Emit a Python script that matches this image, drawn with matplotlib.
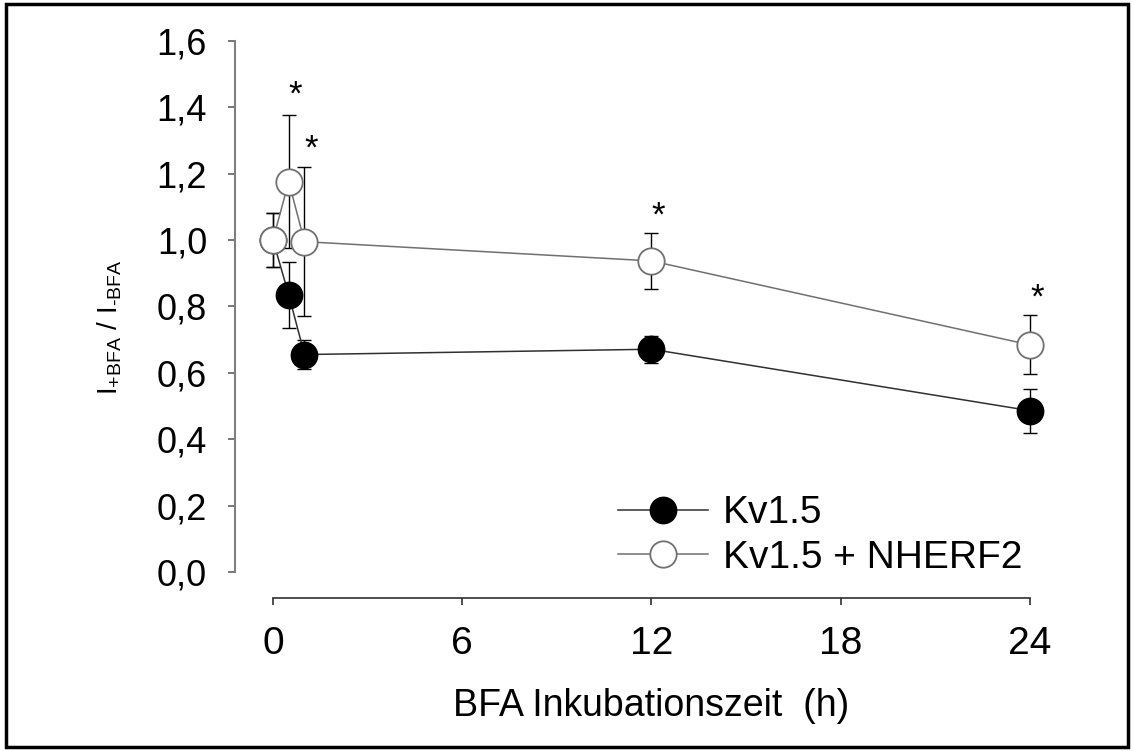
import numpy as np
import matplotlib
matplotlib.use("Agg")
from matplotlib import pyplot as plt
from matplotlib.patches import Rectangle
from matplotlib.ticker import FuncFormatter

plt.rcParams['font.family'] = ['Liberation Sans', 'DejaVu Sans']
plt.rcParams['mathtext.fontset'] = 'custom'
plt.rcParams['mathtext.rm'] = 'Liberation Sans'

# BFA incubation time (h) and normalised current I(+BFA)/I(-BFA)
t = np.array([0, 0.5, 1, 12, 24])
kv = np.array([1.0, 0.835, 0.655, 0.671, 0.486])
kv_err = np.array([0.08, 0.10, 0.043, 0.041, 0.066])
kv_nherf = np.array([1.0, 1.176, 0.995, 0.937, 0.684])
kv_nherf_err = np.array([0.08, 0.20, 0.225, 0.085, 0.089])

# significance marks
star_t = np.array([0.5, 1, 12, 24])
star_y = np.array([1.467, 1.304, 1.102, 0.855])

fig = plt.figure(figsize=(11.34, 7.51), dpi=100)
ax = fig.add_axes([0.2407, 0.2383, 0.6676, 0.7074])

ax.errorbar(t, kv, yerr=kv_err, fmt='none', ecolor='black', elinewidth=1,
            capsize=5, capthick=1, zorder=2, clip_on=False)
ax.errorbar(t, kv_nherf, yerr=kv_nherf_err, fmt='none', ecolor='black',
            elinewidth=1, capsize=5, capthick=1, zorder=2, clip_on=False)

l1, = ax.plot(t, kv, '-o', color='#303030', lw=1.1, ms=19, mfc='black',
              mec='black', mew=1, zorder=3, clip_on=False, label='Kv1.5')
l2, = ax.plot(t, kv_nherf, '-o', color='#707070', lw=1.1, ms=19, mfc='white',
              mec='#707070', mew=1.3, zorder=4, clip_on=False,
              label='Kv1.5 + NHERF2')

for xs, ys in zip(star_t, star_y):
    ax.annotate('*', (xs, ys), xytext=(5, -7), textcoords='offset points',
                fontsize=25, ha='center', va='center')

ax.set_xlim(0, 24)
ax.set_ylim(0, 1.6)
ax.set_xticks([0, 6, 12, 18, 24])
ax.set_yticks(np.arange(0, 1.61, 0.2))
ax.yaxis.set_major_formatter(FuncFormatter(lambda v, p: f'{v:.1f}'.replace('.', ',')))

for side in ['top', 'right']:
    ax.spines[side].set_visible(False)
ax.spines['left'].set_position(('outward', 27.4))
ax.spines['bottom'].set_position(('outward', 18.7))
ax.spines['left'].set_color('#808080')
ax.spines['left'].set_linewidth(1.5)
ax.spines['bottom'].set_color('#303030')
ax.spines['bottom'].set_linewidth(1.2)
ax.tick_params(axis='y', direction='out', length=5, width=1.2, color='#606060',
               labelsize=26, pad=15)
ax.tick_params(axis='x', direction='out', length=5, width=1.2, color='#303030',
               labelsize=28, pad=15)

ax.set_xlabel('BFA Inkubationszeit  (h)', fontsize=27)
ax.xaxis.set_label_coords(0.5, -0.218)
ax.set_ylabel('I$_{\\mathregular{+BFA}}$ / I$_{\\mathregular{\u2010BFA}}$',
              fontsize=20)
ax.yaxis.set_label_coords(-0.197, 0.461)

ax.legend(handles=[l1, l2], loc='center left', bbox_to_anchor=(0.456, 0.0687),
          frameon=False, fontsize=28, handlelength=2.3, handletextpad=0.4,
          labelspacing=0.22, borderaxespad=0, borderpad=0)

fig.patches.append(Rectangle((0.005, 0.005), 0.99, 0.99, transform=fig.transFigure,
                             fill=False, edgecolor='black', linewidth=2.5))

fig.savefig('out.png', dpi=100)
